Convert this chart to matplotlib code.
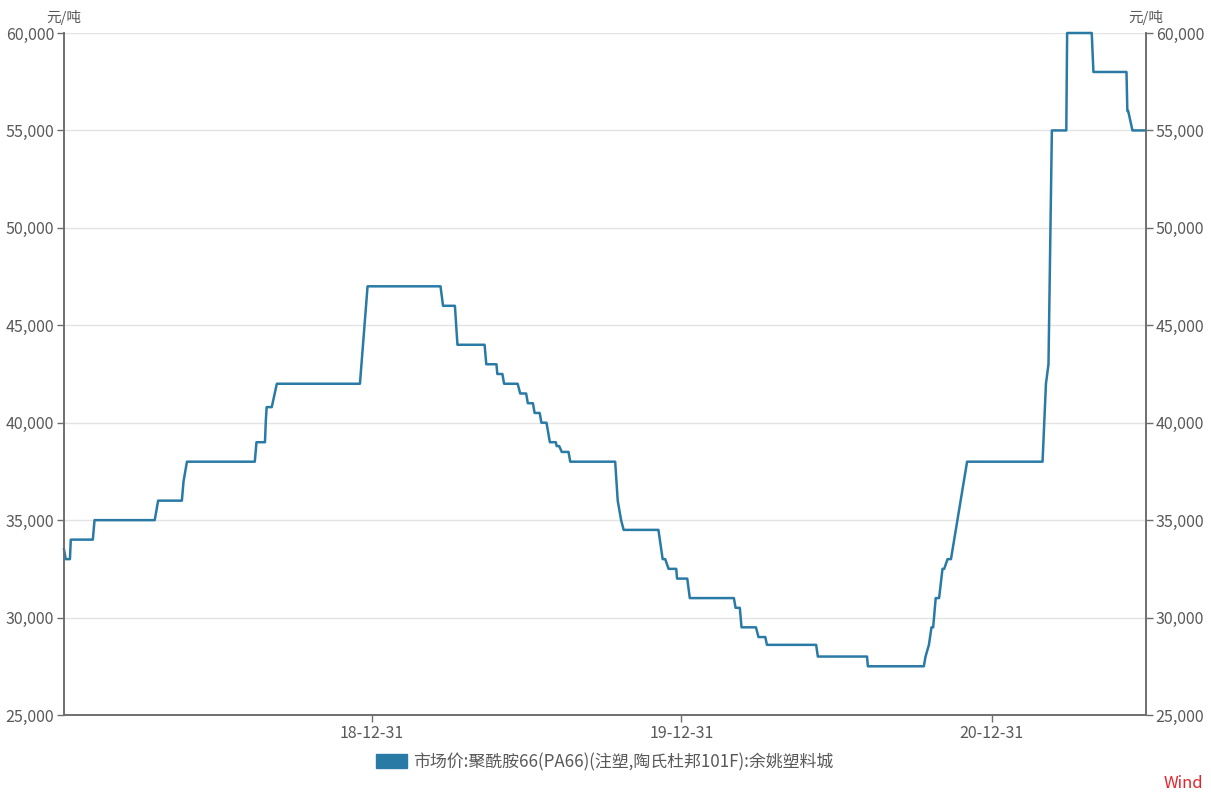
import matplotlib
matplotlib.use("Agg")
import matplotlib.pyplot as plt
import matplotlib.dates as mdates
from matplotlib.patches import Patch
from matplotlib.ticker import FuncFormatter
import pandas as pd

plt.rcParams['font.family'] = ['Noto Sans CJK SC', 'DejaVu Sans']

dates = [
    '2018-01-02', '2018-01-04', '2018-01-09', '2018-01-10', '2018-02-05', '2018-02-07',
    '2018-04-19', '2018-04-23', '2018-05-21', '2018-05-23', '2018-05-27', '2018-08-15',
    '2018-08-17', '2018-08-27', '2018-08-28', '2018-08-29', '2018-09-04', '2018-09-10',
    '2018-12-17', '2018-12-26', '2019-03-22', '2019-03-25', '2019-04-08', '2019-04-11',
    '2019-05-13', '2019-05-15', '2019-05-27', '2019-05-28', '2019-06-03', '2019-06-05',
    '2019-06-21', '2019-06-24', '2019-07-01', '2019-07-03', '2019-07-09', '2019-07-11',
    '2019-07-17', '2019-07-19', '2019-07-25', '2019-07-29', '2019-08-05', '2019-08-06',
    '2019-08-09', '2019-08-12', '2019-08-20', '2019-08-22', '2019-10-14', '2019-10-17',
    '2019-10-21', '2019-10-24', '2019-12-04', '2019-12-09', '2019-12-12', '2019-12-16',
    '2019-12-25', '2019-12-26', '2020-01-07', '2020-01-10', '2020-03-02', '2020-03-04',
    '2020-03-09', '2020-03-11', '2020-03-28', '2020-03-31', '2020-04-08', '2020-04-10',
    '2020-06-07', '2020-06-09', '2020-08-06', '2020-08-07', '2020-10-12', '2020-10-14',
    '2020-10-18', '2020-10-21', '2020-10-23', '2020-10-26', '2020-10-30', '2020-11-03',
    '2020-11-05', '2020-11-09', '2020-11-13', '2020-12-02', '2021-03-01', '2021-03-05',
    '2021-03-08', '2021-03-12', '2021-03-29', '2021-03-30', '2021-04-28', '2021-04-30',
    '2021-06-08', '2021-06-09', '2021-06-10', '2021-06-15', '2021-06-30',
]
prices = [
    33500, 33000, 33000, 34000, 34000, 35000,
    35000, 36000, 36000, 37000, 38000, 38000,
    39000, 39000, 40100, 40800, 40800, 42000,
    42000, 47000, 47000, 46000, 46000, 44000,
    44000, 43000, 43000, 42500, 42500, 42000,
    42000, 41500, 41500, 41000, 41000, 40500,
    40500, 40000, 40000, 39000, 39000, 38800,
    38800, 38500, 38500, 38000, 38000, 36000,
    35000, 34500, 34500, 33000, 33000, 32500,
    32500, 32000, 32000, 31000, 31000, 30500,
    30500, 29500, 29500, 29000, 29000, 28600,
    28600, 28000, 28000, 27500, 27500, 28000,
    28600, 29500, 29500, 31000, 31000, 32500,
    32500, 33000, 33000, 38000, 38000, 42000,
    43000, 55000, 55000, 60000, 60000, 58000,
    58000, 56000, 56000, 55000, 55000,
]
xtick_dates = ['2018-12-31', '2019-12-31', '2020-12-31']
yticks = [25000, 30000, 35000, 40000, 45000, 50000, 55000, 60000]
series_name = '市场价:聚酰胺66(PA66)(注塑,陶氏杜邦101F):余姚塑料城'
unit = '元/吨'

line_color = '#2a7aa6'
text_color = '#595959'
axis_color = '#6e6e6e'

x = pd.to_datetime(dates)

fig = plt.figure(figsize=(12.11, 7.94), dpi=100)
ax = fig.add_axes([64 / 1211, 1 - 715 / 794, (1146 - 64) / 1211, (715 - 33) / 794])

ax.plot(x, prices, color=line_color, linewidth=1.8, clip_on=False, zorder=3)

ax.set_xlim(pd.Timestamp('2018-01-02'), pd.Timestamp('2021-07-01'))
ax.set_ylim(25000, 60000)
ax.set_yticks(yticks)
ax.set_xticks(pd.to_datetime(xtick_dates))
ax.xaxis.set_major_formatter(mdates.DateFormatter('%y-%m-%d'))
ax.yaxis.set_major_formatter(FuncFormatter(lambda v, p: f'{int(v):,}'))
ax.grid(axis='y', color='#e3e3e3', linewidth=1)
ax.set_axisbelow(True)

ax2 = ax.twinx()
ax2.set_ylim(ax.get_ylim())
ax2.set_yticks(yticks)
ax2.yaxis.set_major_formatter(FuncFormatter(lambda v, p: f'{int(v):,}'))

for a in (ax, ax2):
    a.spines['top'].set_visible(False)
    for s in ('left', 'right', 'bottom'):
        a.spines[s].set_color(axis_color)
        a.spines[s].set_linewidth(1.2)
    a.tick_params(colors=axis_color, labelcolor=text_color, labelsize=11.5,
                  length=5, width=1, direction='out', pad=2)

ax.text(0, 1.012, unit, transform=ax.transAxes, ha='center', va='bottom',
        fontsize=10.5, color=text_color)
ax2.text(1, 1.012, unit, transform=ax2.transAxes, ha='center', va='bottom',
         fontsize=10.5, color=text_color)

handle = Patch(facecolor=line_color, edgecolor=line_color)
fig.legend([handle], [series_name], loc='center', bbox_to_anchor=(605 / 1211, 1 - 762 / 794),
           frameon=False, fontsize=12.2, handlelength=1.8, handleheight=0.9,
           handletextpad=0.4, labelcolor=text_color)

fig.text(1203 / 1211, 1 - 783 / 794, 'Wind', color='#e8232b', fontsize=12,
         ha='right', va='center')

fig.savefig('out.png', dpi=100)
